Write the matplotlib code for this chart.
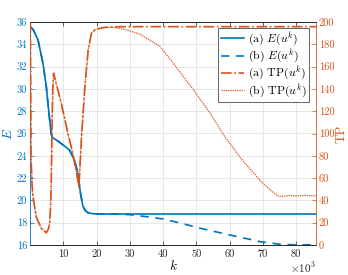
import numpy as np
import matplotlib
matplotlib.use("Agg")
import matplotlib.pyplot as plt

plt.rcParams['font.family'] = ['cmr10', 'DejaVu Serif']
plt.rcParams['mathtext.fontset'] = 'cm'
plt.rcParams['axes.unicode_minus'] = False
plt.rcParams['font.size'] = 7.5

blue = '#0072BD'
orange = '#D95319'

# k in units of 10^3 iterations
# E(u^k), shared part of both runs
k_E_start = [0, 1, 2.4, 3.9, 4.9, 5.6, 6.4, 6.9, 8, 9.4, 10.5, 11.9, 13.4, 14.4,
             15.2, 15.9, 16.6, 17.4, 19, 22]
E_start = [35.6, 35.3, 34.4, 32.3, 30.2, 28.1, 25.9, 25.6, 25.4, 25.1, 24.85, 24.5,
           23.6, 22.4, 20.6, 19.5, 19.1, 18.9, 18.8, 18.78]
# run (a) tail
k_E_a_tail = [30, 50, 70, 86]
E_a_tail = [18.78, 18.78, 18.78, 18.78]
# run (b) tail
k_E_b_tail = [26, 30.1, 36.1, 40.1, 46.1, 51.2, 59.2, 69.2, 75.3, 79, 86]
E_b_tail = [18.76, 18.72, 18.5, 18.33, 17.9, 17.5, 16.96, 16.3, 16.06, 16.02, 16.02]

# TP(u^k), shared part of both runs
k_TP_start = [0, 0.1, 0.2, 0.3, 0.6, 0.9, 1.9, 3.4, 4.9, 5.5, 5.9, 6.2, 6.4, 6.6,
              6.85, 7.1, 9.4, 11.4, 12.4, 13.9, 14.7, 15.5, 16.5, 17.5, 18.5,
              19.5, 20.6, 22]
TP_start = [200, 200, 140, 80, 55, 43, 25, 15, 11, 14, 19.5, 35, 58, 103, 140, 154,
            127, 100, 88, 67, 52, 97, 142, 175, 190, 193, 194, 195]
k_TP_a_tail = [24, 27, 86]
TP_a_tail = [195.5, 195.8, 195.8]
k_TP_b_tail = [25.1, 28.6, 33.1, 39.1, 43.1, 49.2, 54.2, 58.4, 63.4, 69.5, 72,
               74.5, 76, 78, 80, 83, 86]
TP_b_tail = [195.2, 193.4, 189, 178, 163, 139, 118, 98, 77.7, 56.8, 50, 44, 43.5,
             44.5, 44, 44.5, 44]

k_E_a = k_E_start + k_E_a_tail
E_a = E_start + E_a_tail
k_E_b = k_E_start + k_E_b_tail
E_b = E_start + E_b_tail
k_TP_a = k_TP_start + k_TP_a_tail
TP_a = TP_start + TP_a_tail
k_TP_b = k_TP_start + k_TP_b_tail
TP_b = TP_start + TP_b_tail

fig = plt.figure(figsize=(3.48, 2.75), dpi=100)
ax = fig.add_axes([30 / 348, 30 / 275, 286 / 348, 223 / 275])
ax2 = ax.twinx()

l1, = ax.plot(k_E_a, E_a, color=blue, lw=1.2, label='(a) $E(u^k)$')
l2, = ax.plot(k_E_b, E_b, color=blue, lw=1.2, ls=(0, (5, 4)), label='(b) $E(u^k)$')
l3, = ax2.plot(k_TP_a, TP_a, color=orange, lw=1.2, ls='-.', label='(a) TP$(u^k)$')
l4, = ax2.plot(k_TP_b, TP_b, color=orange, lw=0.9, ls=(0, (1, 0.8)), label='(b) TP$(u^k)$')

ax.set_xlim(0, 86)
ax.set_ylim(16, 36)
ax2.set_ylim(0, 200)
ax.set_xticks(np.arange(10, 81, 10))
ax.set_yticks(np.arange(16, 37, 2))
ax2.set_yticks(np.arange(0, 201, 20))

ax.grid(True, color='#e3e3e3', lw=0.6)
ax.set_axisbelow(True)

ax.tick_params(axis='x', direction='in', top=True, length=3, width=0.5,
               colors='#262626', labelcolor='#262626', pad=3)
ax.tick_params(axis='y', direction='in', length=3, width=0.5,
               colors=blue, labelcolor=blue, pad=2)
ax2.tick_params(axis='y', direction='in', length=3, width=0.5,
                colors=orange, labelcolor=orange, pad=2)

for a in (ax, ax2):
    a.spines['top'].set_color('#262626')
    a.spines['bottom'].set_color('#262626')
    for s in a.spines.values():
        s.set_linewidth(0.6)
ax.spines['left'].set_color(blue)
ax.spines['right'].set_visible(False)
ax2.spines['left'].set_visible(False)
ax2.spines['right'].set_color(orange)

ax.set_xlabel('$k$', fontsize=9.5, labelpad=0)
ax.set_ylabel('$E$', fontsize=9.5, color=blue, labelpad=1)
ax2.set_ylabel('TP', fontsize=9.5, color=orange, labelpad=1)
ax.text(1.0, -0.07, r'$\times10^3$', transform=ax.transAxes,
        ha='right', va='top', fontsize=8, color='#262626')

leg = ax2.legend(handles=[l1, l2, l3, l4], loc='upper right',
                 bbox_to_anchor=(0.976, 0.973), borderaxespad=0,
                 fontsize=8.5, handlelength=2.0, handletextpad=0.3,
                 labelspacing=0.0, borderpad=0.2, fancybox=False,
                 framealpha=1, edgecolor='#262626')
leg.get_frame().set_linewidth(0.5)

fig.savefig('out.png', dpi=100)
